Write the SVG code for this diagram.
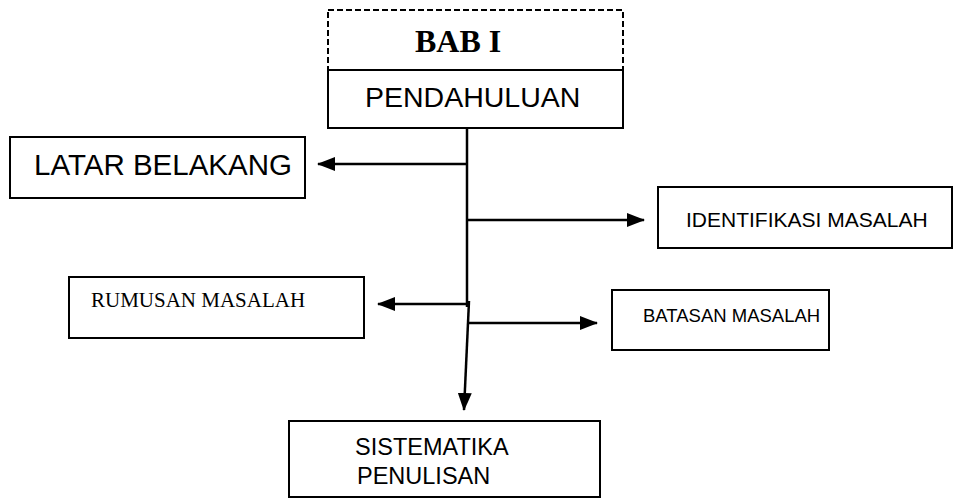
<svg xmlns="http://www.w3.org/2000/svg" width="954" height="501" viewBox="0 0 954 501">
<style>
.box{fill:#fff;stroke:#000;stroke-width:2}
.dash{fill:#fff;stroke:#000;stroke-width:2;stroke-dasharray:6 3}
.line{stroke:#000;stroke-width:2.5;fill:none}
.sans{font-family:"Liberation Sans",Arial,sans-serif;fill:#000}
.serif{font-family:"Liberation Serif","Times New Roman",serif;fill:#000}
</style>
<defs>
<marker id="ah" markerWidth="18" markerHeight="14" refX="17" refY="7" orient="auto" markerUnits="userSpaceOnUse">
<path d="M0,0 L18,7 L0,14 Z" fill="#000"/>
</marker>
</defs>
<rect width="954" height="501" fill="#fff"/>
<g id="connectors">
<line class="line" x1="467" y1="128" x2="467" y2="307"/>
<line class="line" x1="467" y1="164" x2="318" y2="164" marker-end="url(#ah)"/>
<line class="line" x1="467" y1="220" x2="644" y2="220" marker-end="url(#ah)"/>
<line class="line" x1="467" y1="304" x2="378" y2="304" marker-end="url(#ah)"/>
<line class="line" x1="469" y1="323" x2="597" y2="323" marker-end="url(#ah)"/>
<line class="line" x1="469" y1="301" x2="464" y2="410" marker-end="url(#ah)"/>
</g>
<g id="bab1">
<rect class="dash" x="328" y="10" width="295" height="60"/>
<text class="serif" x="415" y="52" font-size="32" font-weight="bold">BAB I</text>
</g>
<g id="pendahuluan">
<rect class="box" x="328" y="70" width="295" height="58"/>
<text class="sans" x="365" y="107" font-size="28.5">PENDAHULUAN</text>
</g>
<g id="latar">
<rect class="box" x="10" y="137" width="295" height="61"/>
<text class="sans" x="34" y="175" font-size="29.5">LATAR BELAKANG</text>
</g>
<g id="identifikasi">
<rect class="box" x="658" y="187" width="294" height="61"/>
<text class="sans" x="686" y="227" font-size="21">IDENTIFIKASI MASALAH</text>
</g>
<g id="rumusan">
<rect class="box" x="69" y="277" width="295" height="61"/>
<text class="serif" x="91" y="307" font-size="21">RUMUSAN MASALAH</text>
</g>
<g id="batasan">
<rect class="box" x="612" y="290" width="217" height="60"/>
<text class="sans" x="643" y="322" font-size="18.5">BATASAN MASALAH</text>
</g>
<g id="sistematika">
<rect class="box" x="289" y="421" width="311" height="76"/>
<text class="sans" x="355" y="455" font-size="23.5">SISTEMATIKA</text>
<text class="sans" x="357" y="484" font-size="23.5">PENULISAN</text>
</g>
</svg>
